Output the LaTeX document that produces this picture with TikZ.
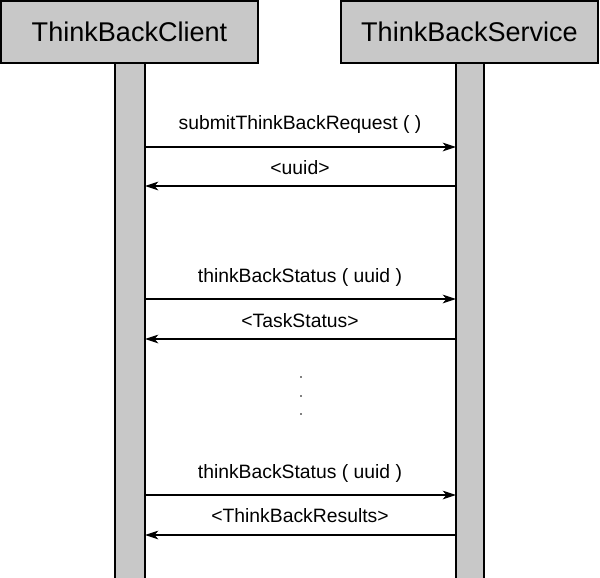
\documentclass[tikz,border=0pt]{standalone}
\usepackage{fontspec}
\setmainfont{Liberation Sans}
\usetikzlibrary{arrows.meta}
\definecolor{boxgray}{RGB}{200,200,200}
\begin{document}
\begin{tikzpicture}[x=0.75pt,y=-0.75pt,
  actor/.style={draw=black,line width=1.5pt,fill=boxgray,font=\fontsize{20.3}{24}\selectfont,
    minimum width=192.75pt,minimum height=46.5pt,inner sep=0pt},
  lifebar/.style={draw=black,line width=1.5pt,fill=boxgray},
  msg/.style={line width=0.8pt,-{Stealth[length=10pt,width=6.5pt,inset=2.8pt]}},
  lbl/.style={font=\fontsize{14.5}{17}\selectfont,inner sep=0pt}]
\useasboundingbox (0,0) rectangle (600,578);
% lifelines
\draw[lifebar] (115,63) rectangle (145,580);
\draw[lifebar] (456,63) rectangle (484,580);
% actors
\node[actor] (client) at (129.5,32) {ThinkBackClient};
\node[actor] (service) at (469.5,32) {ThinkBackService};
% anchor coordinates
\coordinate (c1) at (145,147); \coordinate (s1) at (456,147);
\coordinate (c2) at (145,186); \coordinate (s2) at (456,186);
\coordinate (c3) at (145,299); \coordinate (s3) at (456,299);
\coordinate (c4) at (145,339); \coordinate (s4) at (456,339);
\coordinate (c5) at (145,495); \coordinate (s5) at (456,495);
\coordinate (c6) at (145,535); \coordinate (s6) at (456,535);
% messages
\draw[msg] (c1) -- (s1);
\node[lbl] (l1) at (300,125) {submitThinkBackRequest ( )};
\draw[msg] (s2) -- (c2);
\node[lbl] (l2) at (300,168) {<uuid>};
\draw[msg] (c3) -- (s3);
\node[lbl] (l3) at (300,277) {thinkBackStatus ( uuid )};
\draw[msg] (s4) -- (c4);
\node[lbl] (l4) at (300,321) {<TaskStatus>};
\draw[msg] (c5) -- (s5);
\node[lbl] (l5) at (300,473) {thinkBackStatus ( uuid )};
\draw[msg] (s6) -- (c6);
\node[lbl] (l6) at (300,516) {<ThinkBackResults>};
% dots
\fill (301,377) circle (0.9);
\fill (301,396) circle (0.9);
\fill (301,414) circle (0.9);
\end{tikzpicture}
\end{document}
